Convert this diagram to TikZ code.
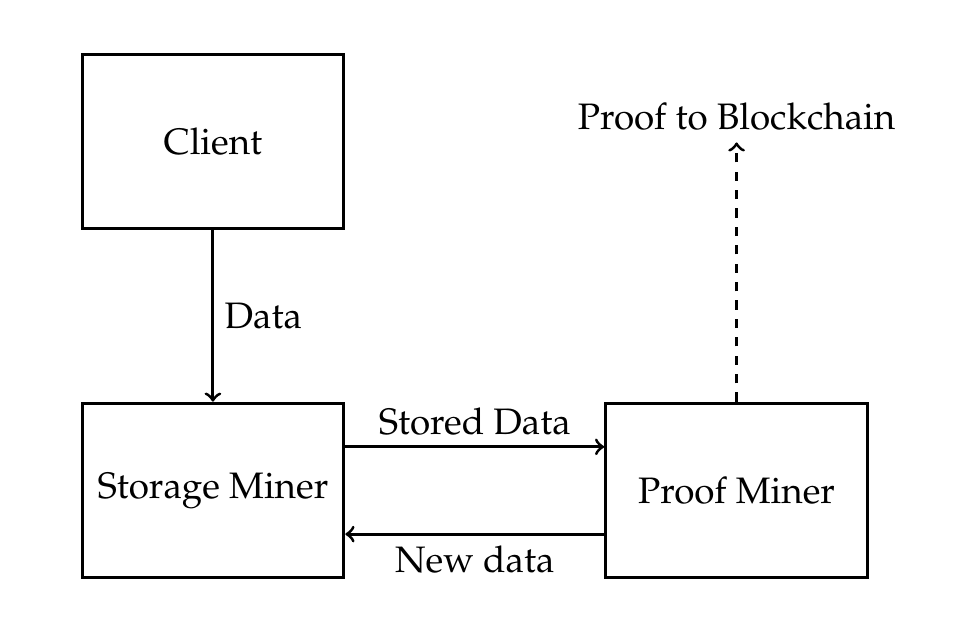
\documentclass[tikz,border=0pt]{standalone}
\usepackage[T1]{fontenc}
\usepackage{mathpazo}
\usepackage{tikz}
\usetikzlibrary{shapes,arrows,positioning,calc}

\begin{document}
\begin{tikzpicture}[auto, line width=1pt, font=\large]
    \useasboundingbox (-2.44,-1.736) rectangle (8.56,5.62);
    \tikzset{minerbox/.style={rectangle, draw, minimum width=3cm, minimum height=2cm}}
    \node (storage) [minerbox] at (0,0) {Storage Miner};
    \node (client) [minerbox] at (0,4) {Client};
    \node (proof) [minerbox] at (6,0) {Proof Miner};
    \node (chain) at (6,4.28) {Proof to Blockchain};
    \draw [->] (client) -- node {Data} (storage);
    \draw [->] ([yshift=0.5cm]storage.east) -- node {Stored Data} ([yshift=0.5cm]proof.west);
    \draw [->] ([yshift=-0.5cm]proof.west) -- node {New data} ([yshift=-0.5cm]storage.east);
    \draw [->, dashed] (proof) -- (chain);
\end{tikzpicture}
\end{document}
